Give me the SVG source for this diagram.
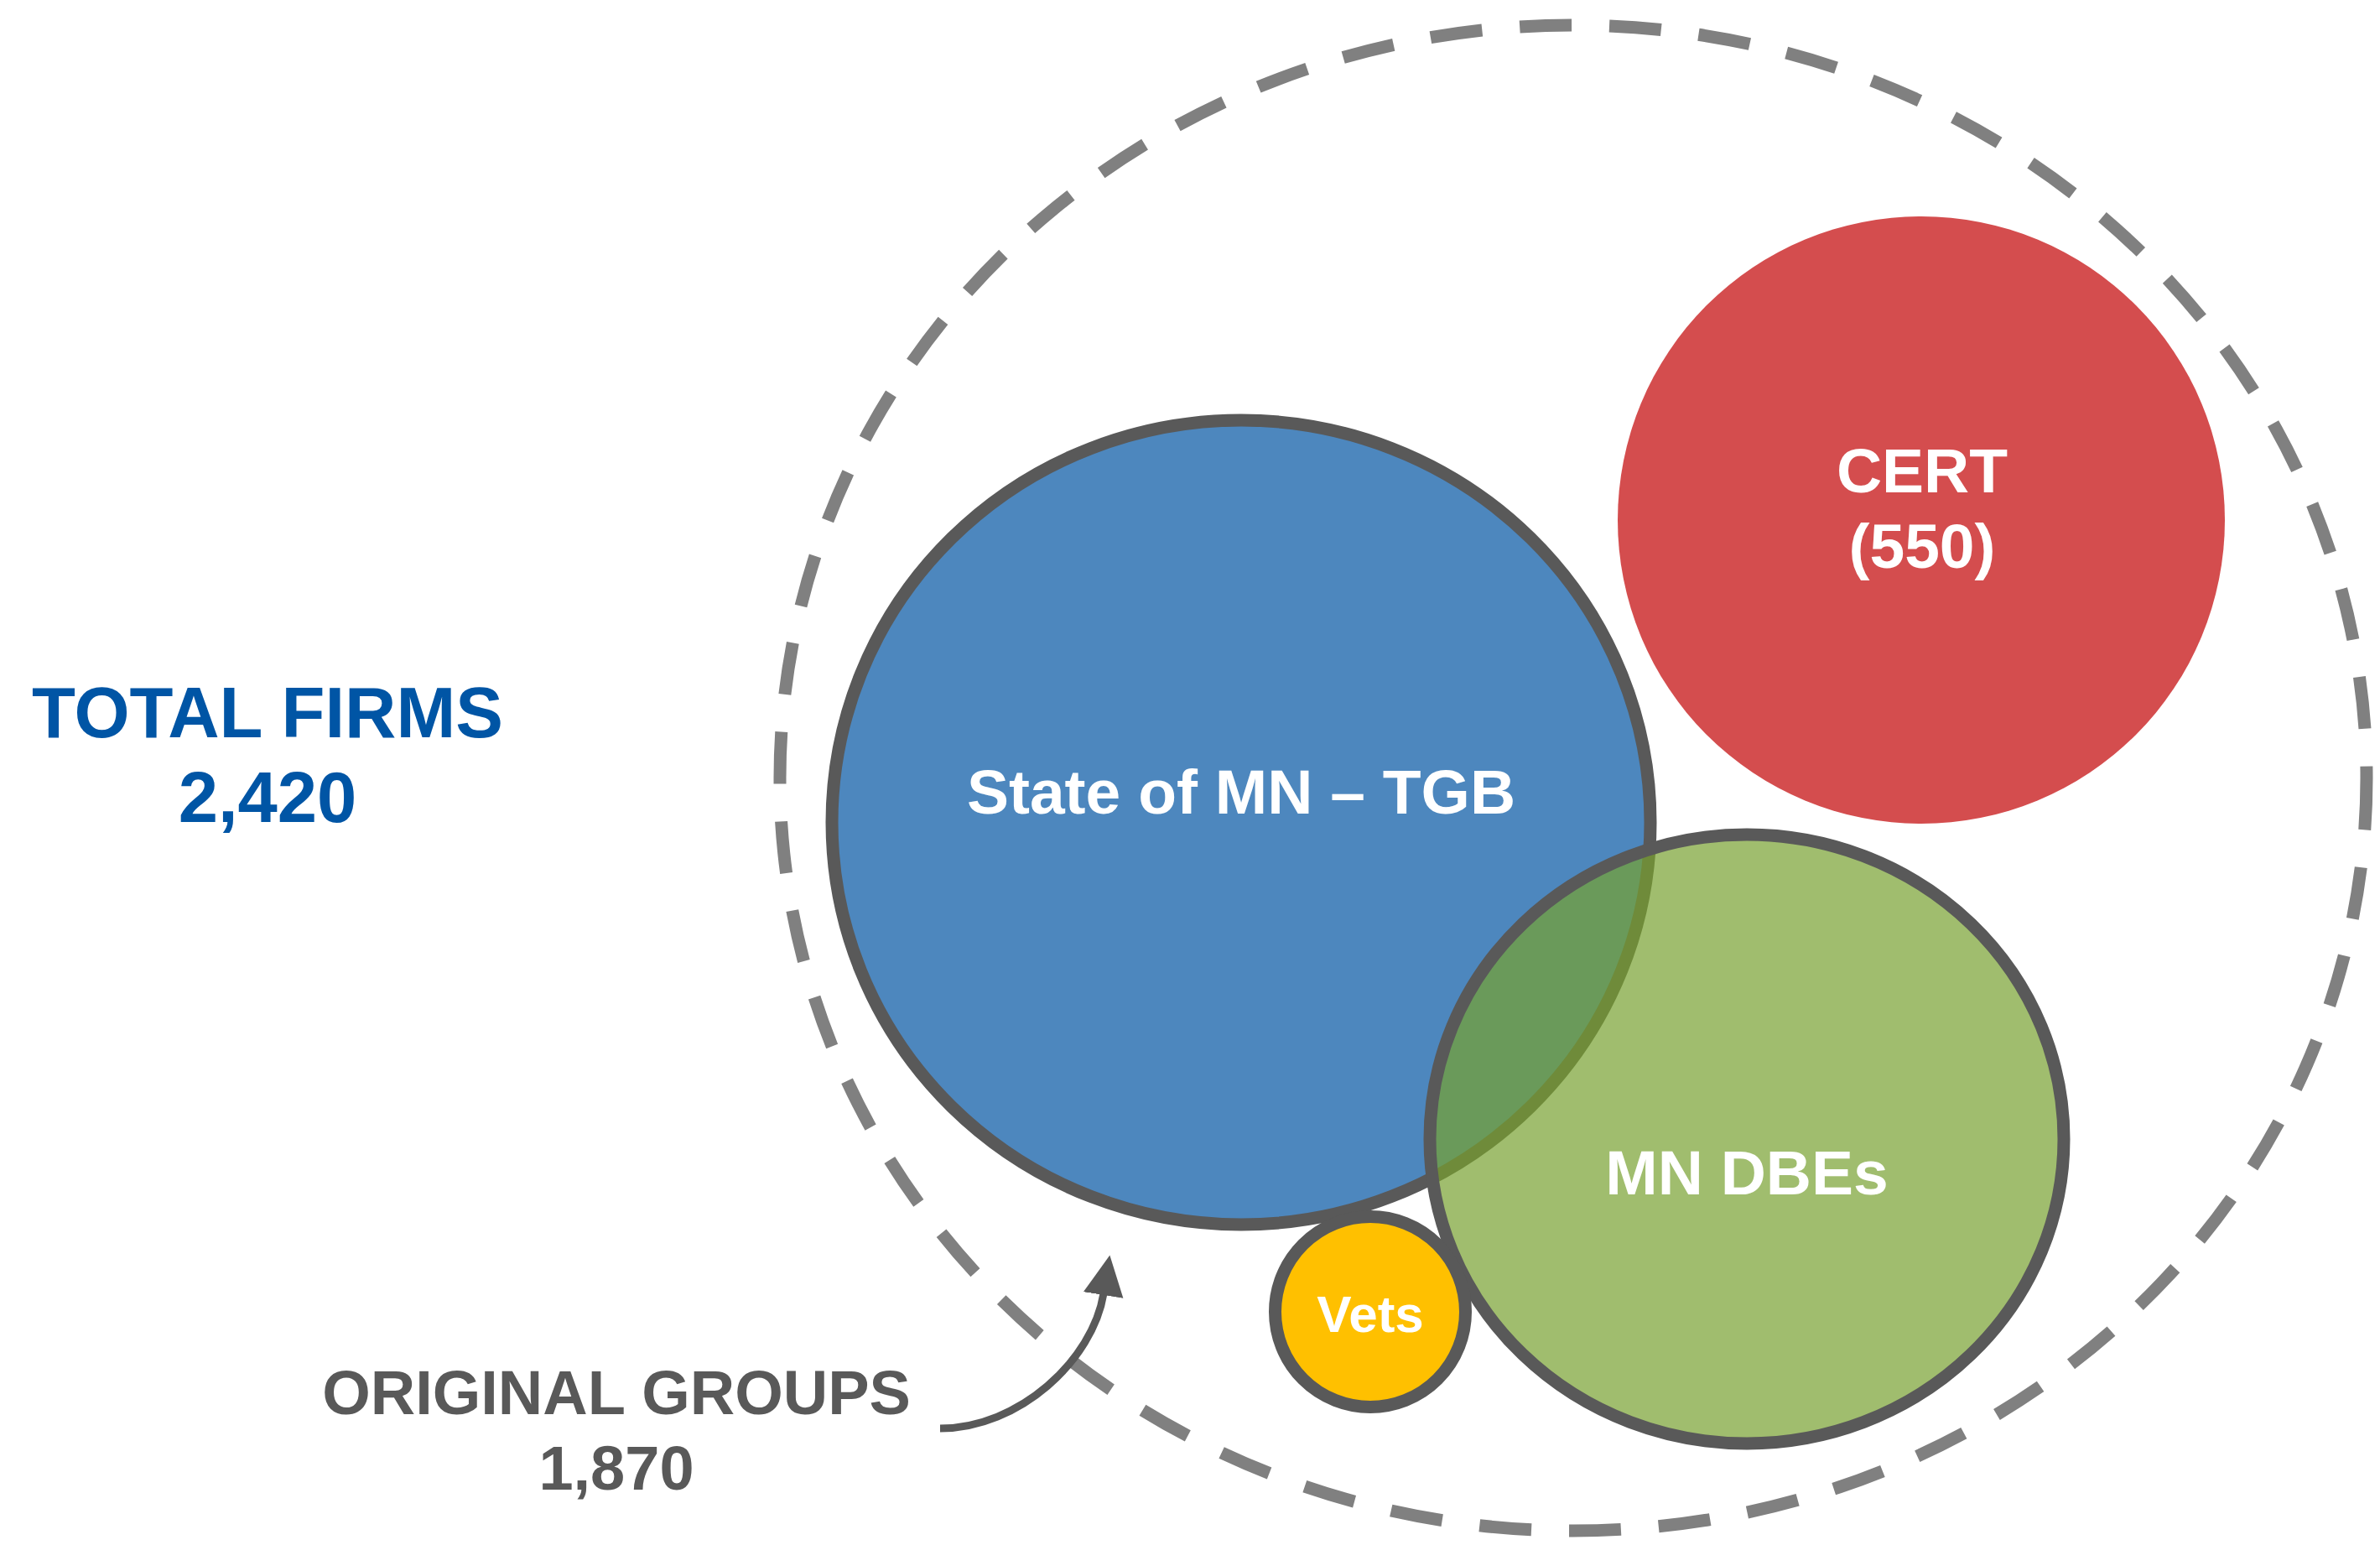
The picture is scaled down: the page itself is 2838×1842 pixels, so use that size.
<svg xmlns="http://www.w3.org/2000/svg" width="2838" height="1842" viewBox="0 0 2838 1842">
  <style>
    text { font-family: "Liberation Sans", Arial, sans-serif; font-weight: bold; text-anchor: middle; }
    .total { fill: #0055A5; font-size: 85px; }
    .orig { fill: #595959; font-size: 74px; }
    .lbl { fill: #FFFFFF; font-size: 75px; }
    .vets { fill: #FFFFFF; font-size: 62px; }
    .ring { stroke: #595959; stroke-width: 15; }
  </style>
  <defs>
    <clipPath id="inGreen">
      <ellipse cx="2083" cy="1358" rx="378" ry="363"/>
    </clipPath>
    <marker id="head" markerUnits="userSpaceOnUse" markerWidth="52" markerHeight="52" refX="2" refY="24" orient="auto">
      <path d="M0,0 L48,24 L0,48 Z" fill="#595959"/>
    </marker>
  </defs>

  <rect width="2838" height="1842" fill="#FFFFFF"/>

  <!-- outer boundary: all firms -->
  <g id="all-firms">
    <ellipse cx="1876" cy="927.5" rx="946" ry="897.5" fill="none" stroke="#808080" stroke-width="15" stroke-dasharray="62 45"/>
  </g>

  <g id="total-label">
    <text class="total" x="319" y="879">TOTAL FIRMS</text>
    <text class="total" x="319" y="980">2,420</text>
  </g>

  <g id="cert">
    <circle cx="2291" cy="620" r="362" fill="#D44D4E"/>
    <text class="lbl" x="2292" y="587">CERT</text>
    <text class="lbl" x="2292" y="677">(550)</text>
  </g>

  <g id="state-tgb">
    <ellipse class="ring" cx="1480" cy="980.5" rx="488" ry="479.5" fill="#4D87BE"/>
    <text class="lbl" x="1480" y="970">State of MN – TGB</text>
  </g>

  <g id="mn-dbes">
    <ellipse cx="2083" cy="1358" rx="378" ry="363" fill="#A0BD6E"/>
    <g clip-path="url(#inGreen)">
      <ellipse cx="1480" cy="980.5" rx="488" ry="479.5" fill="#6A9A5A" stroke="#6F8B3A" stroke-width="15"/>
    </g>
    <ellipse class="ring" cx="2083" cy="1358" rx="378" ry="363" fill="none"/>
    <text class="lbl" x="2083" y="1424">MN DBEs</text>
  </g>

  <g id="vets">
    <circle class="ring" cx="1634" cy="1564" r="113.5" fill="#FFC000"/>
    <text class="vets" x="1634" y="1588">Vets</text>
  </g>

  <g id="original-label">
    <text class="orig" x="735" y="1686">ORIGINAL GROUPS</text>
    <text class="orig" x="735" y="1776">1,870</text>
  </g>

  <g id="connectors">
    <path d="M1121,1703 C1215,1703 1303,1622 1316,1542" fill="none" stroke="#595959" stroke-width="9" marker-end="url(#head)"/>
  </g>
</svg>
